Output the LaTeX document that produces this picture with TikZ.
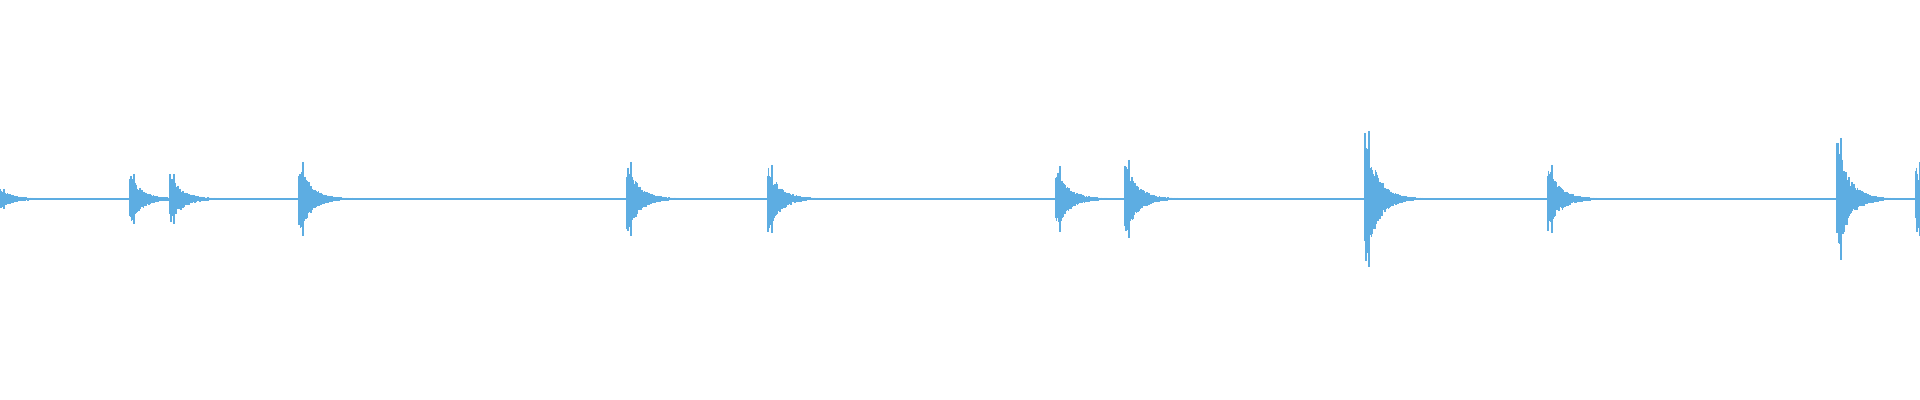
\documentclass[tikz,border=0pt]{standalone}
\definecolor{wave}{HTML}{5DADE2}
\begin{document}
\begin{tikzpicture}[x=0.5pt,y=-0.5pt,wv/.style={draw=wave,line width=0.6pt}]
\useasboundingbox (0,0) rectangle (1920,400);
\pgfmathsetseed{7}
\draw[wv,line width=0.7pt] (0,199) -- (1920,199);
\foreach \xo/\A in {0/10,130/25,170/25,299/37,627/37,768/34,1056/33,1125/39,1365/68,1548/34,1837/61,1916/37}{
  \draw[wv,line width=0.8pt] (\xo+4,199-\A) -- (\xo+4,199+\A);
  \foreach \i in {0,1,...,140}{
    \pgfmathsetmacro{\hu}{\A*(0.5+0.5*rnd)*exp(-\i/24)+0.6}
    \pgfmathsetmacro{\hd}{\A*(0.5+0.5*rnd)*exp(-\i/24)+0.6}
    \draw[wv] (\xo+\i*0.5,199-\hu) -- (\xo+\i*0.5,199+\hd);
  }
}
\end{tikzpicture}
\end{document}
